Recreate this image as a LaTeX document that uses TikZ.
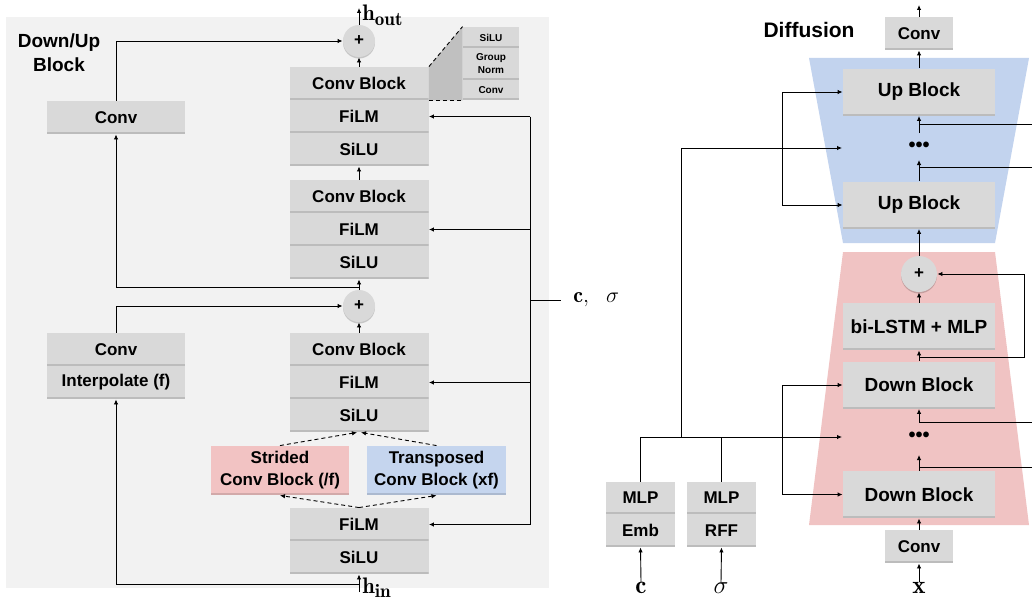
\documentclass[tikz,border=0pt]{standalone}
\usepackage{graphicx}
\usepackage{fontspec}
\newfontfamily\lsans{Liberation Sans}
\usetikzlibrary{arrows.meta,shadows,calc}
\newcommand\mlab[2]{\scalebox{#1}{\fontsize{17.28}{20}\selectfont$#2$}}
\definecolor{bgc}{HTML}{F2F2F2}
\definecolor{boxc}{HTML}{D9D9D9}
\definecolor{pinkc}{HTML}{F2C3C3}
\definecolor{bluec}{HTML}{C5D5EE}
\definecolor{trapc}{HTML}{C0C0C0}
\definecolor{bluetr}{HTML}{C2D3EE}
\definecolor{pinktr}{HTML}{F0C3C3}
\begin{document}
\begin{tikzpicture}[x=1pt,y=-1pt,line width=0.9pt,
 arr/.style={-{Latex[length=5pt,width=4.5pt]}},
 dsh/.style={dash pattern=on 4pt off 3pt},
 bx/.style={fill=boxc,inner sep=0pt,minimum width=139pt,minimum height=33pt,align=center,
   font=\lsans\bfseries\fontsize{17}{22}\selectfont,
   path picture={\fill[black,opacity=0.13] ([yshift=1.6pt]path picture bounding box.south west) rectangle (path picture bounding box.south east);}},
 rb/.style={bx,minimum width=152pt,minimum height=47pt,font=\lsans\bfseries\fontsize{19}{22}\selectfont},
 sm/.style={bx,minimum width=56pt,font=\lsans\bfseries\fontsize{10}{13}\selectfont},
 pl/.style={circle,fill=boxc,inner sep=0pt,minimum size=32pt,font=\lsans\bfseries\fontsize{17}{20}\selectfont,
   drop shadow={shadow xshift=0pt,shadow yshift=-1.5pt,fill=black,opacity=0.18}},
 ml/.style={inner sep=0pt},
 dots/.style={inner sep=0pt,font=\lsans\bfseries\fontsize{20}{22}\selectfont},
 ttl/.style={align=center,inner sep=0pt}
]
\useasboundingbox (0,0) rectangle (1032,602);
% ---------------- left panel ----------------
\fill[bgc] (6,17) rectangle (549,588);
\node[ttl,font=\lsans\bfseries\fontsize{19}{24}\selectfont] (title) at (59,53) {Down/Up\\Block};

\node[pl] (plusT) at (359,41) {+};
\node[anchor=base west,inner sep=0pt] (hout) at (362,21) {\mlab{1.3}{\mathbf{h}}\raisebox{-5pt}{\mlab{1.1}{\mathbf{out}}}};
\coordinate (houtTip) at (359,8);

\node[bx] (cb1) at (359,83.5) {Conv Block};
\node[bx] (film1) at (359,116.5) {FiLM};
\node[bx] (silu1) at (359,149.5) {SiLU};
\node[bx] (cb2) at (359,196.5) {Conv Block};
\node[bx] (film2) at (359,229.5) {FiLM};
\node[bx] (silu2) at (359,262.5) {SiLU};
\node[pl] (plusM) at (359,306) {+};
\node[bx] (cb3) at (359,349.5) {Conv Block};
\node[bx] (film3) at (359,382.5) {FiLM};
\node[bx] (silu3) at (359,415.5) {SiLU};
\node[bx,fill=pinkc,minimum width=138pt,minimum height=49pt] (strided) at (280,470.5) {Strided\\Conv Block (/f)};
\node[bx,fill=bluec,minimum width=139pt,minimum height=49pt] (transp) at (436.5,470.5) {Transposed\\Conv Block (xf)};
\node[bx] (film4) at (359,524.5) {FiLM};
\node[bx] (silu4) at (359,557.5) {SiLU};
\node[anchor=base west,inner sep=0pt] (hin) at (362,593) {\mlab{1.3}{\mathbf{h}}\raisebox{-4pt}{\mlab{1.1}{\mathbf{in}}}};
\coordinate (hin0) at (359,592);
\coordinate (j2) at (359,584);
\coordinate (j1) at (359,287);

\node[bx,minimum width=138pt] (conv1) at (116,117.5) {Conv};
\node[bx,minimum width=138pt] (conv2) at (116,349.5) {Conv};
\node[bx,minimum width=138pt] (interp) at (116,382.5) {Interpolate (f)};

\node[sm,minimum height=21pt] (isilu) at (491,37.5) {SiLU};
\node[sm,minimum height=32pt] (ign) at (491,64) {Group\\Norm};
\node[sm,minimum height=20pt] (iconv) at (491,90) {Conv};
\fill[trapc] (cb1.north east) -- (isilu.north west) -- (iconv.south west) -- (cb1.south east) -- cycle;
\draw[dsh] (cb1.north east) -- (isilu.north west);
\draw[dsh] (cb1.south east) -- (iconv.south west);

\coordinate (bus) at (530,0);
\draw (film1.east -| bus) -- (film4.east -| bus);
\foreach \n in {film1,film2,film3,film4} \draw[arr] (\n.east -| bus) -- (\n.east);
\node[anchor=west,inner xsep=12pt,inner ysep=0pt] (cs) at (561,300) {\mlab{1.27}{\mathbf{c},\ \ \sigma}};
\draw (cs.west -| bus) -- (cs.west);

\draw[arr] (plusT.north) -- (houtTip);
\draw[arr] (cb1.north) -- (plusT.south);
\draw[arr] (cb2.north) -- (silu1.south);
\draw[arr] (plusM.north) -- (silu2.south);
\draw[arr] (j1) -| (conv1.south);
\draw[arr] (conv1.north) |- (plusT.west);
\draw[arr] (cb3.north) -- (plusM.south);
\draw[arr] (conv2.north) |- (plusM.west);
\draw[arr,dsh] (strided.north) -- ([xshift=-2pt]silu3.south);
\draw[arr,dsh] (transp.north) -- ([xshift=2pt]silu3.south);
\draw[arr,dsh] (film4.north) -- (strided.south);
\draw[arr,dsh] (film4.north) -- (transp.south);
\draw[arr] (hin0) -- (silu4.south);
\draw[arr] (j2) -| (interp.south);

% ---------------- right panel ----------------
\fill[bluetr] (809,58) -- (1029,58) -- (995,243) -- (843,243) -- cycle;
\fill[pinktr] (843,252) -- (995,252) -- (1029,525) -- (809,525) -- cycle;
\node[ttl,font=\lsans\bfseries\fontsize{21}{24}\selectfont] (diff) at (809,30) {Diffusion};

\node[bx,minimum width=68pt] (tcv) at (919,33.5) {Conv};
\node[rb] (up1) at (919,92) {Up Block};
\node[dots] (d1) at (919,147) {•••};
\node[rb] (up2) at (919,205) {Up Block};
\node[pl,minimum size=36pt] (pR) at (919,274) {+};
\node[rb] (lstm) at (919,326.5) {bi-LSTM + MLP};
\node[rb] (down1) at (919,385) {Down Block};
\node[dots] (d2) at (919,437) {•••};
\node[rb] (down2) at (919,494.5) {Down Block};
\node[bx,minimum width=68pt] (bcv) at (919,546.5) {Conv};
\node[bx,minimum width=69pt,minimum height=32pt] (mlp1) at (640.5,498) {MLP};
\node[bx,minimum width=69pt] (emb) at (640.5,530.5) {Emb};
\node[bx,minimum width=69pt,minimum height=32pt] (mlp2) at (721.5,498) {MLP};
\node[bx,minimum width=69pt] (rff) at (721.5,530.5) {RFF};
\node[ml] (xl) at (919,588) {\mlab{1.45}{\mathbf{x}}};
\node[ml] (cl) at (641,588) {\mlab{1.45}{\mathbf{c}}};
\node[ml] (sl) at (721,588) {\mlab{1.45}{\sigma}};

\coordinate (outTip) at (919,5);
\coordinate (a1) at (919,133);
\coordinate (r1) at (1032,124);
\coordinate (a2) at (919,160);
\coordinate (r2) at (1032,167);
\coordinate (j3) at (919,357);
\coordinate (rr) at (1024,274);
\coordinate (a3) at (919,422);
\coordinate (r3) at (1032,422);
\coordinate (a4) at (919,455);
\coordinate (r4) at (1032,467);
\coordinate (lb1) at (782,148);
\coordinate (lb2) at (782,437);
\coordinate (cIn1) at (842,148);
\coordinate (cIn2) at (842,437);
\coordinate (j5) at (681,437);

\draw[arr] (tcv.north) -- (outTip);
\draw[arr] (up1.north) -- (tcv.south);
\draw[arr] (a1) -- (up1.south);
\draw (r1) -- (r1 -| up1.south);
\draw[arr] (up2.north) -- (a2);
\draw (r2) -- (r2 -| up2.north);
\draw[arr] (pR.north) -- (up2.south);
\draw[arr] (lstm.north) -- (pR.south);
\draw[arr] (down1.north) -- (lstm.south);
\draw[arr] (j3) -| (rr) -- (pR.east);
\draw[arr] (a3) -- (down1.south);
\draw (r3) -- (a3);
\draw[arr] (down2.north) -- (a4);
\draw (r4) -- (r4 -| down2.north);
\draw[arr] (bcv.north) -- (down2.south);
\draw[arr] (xl.north) -- (bcv.south);
\draw[arr] (cl.north) -- (emb.south);
\draw[arr] (sl.north) -- (rff.south);
\draw[arr] (lb1) |- (up1.west);
\draw[arr] (lb1) |- (up2.west);
\draw[arr] (lb2) |- (down1.west);
\draw[arr] (lb2) |- (down2.west);
\draw[arr] (mlp1.north) |- (cIn2);
\draw (mlp2.north) -- (mlp2.north |- cIn2);
\draw[arr] (j5) |- (cIn1);
\end{tikzpicture}
\end{document}
